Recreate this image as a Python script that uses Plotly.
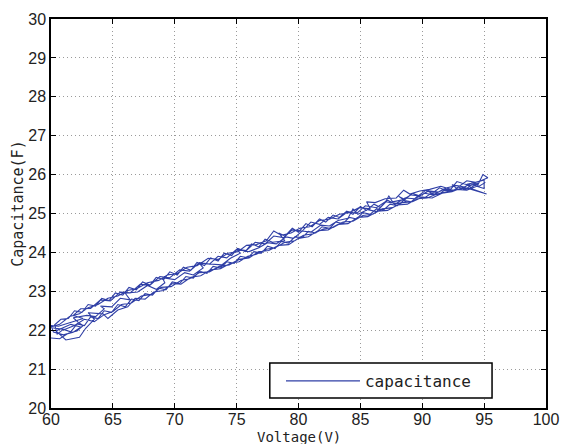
import plotly.graph_objects as go

# Capacitance measured while the voltage is swept up and down repeatedly.
# Each sweep is a list of (voltage [V], capacitance [F]) readings.
sweep_1 = [
    (60.0, 21.80), (60.7, 21.78), (61.4, 21.92), (62.1, 21.98), (62.6, 22.12), (62.2, 22.20),
    (61.8, 22.32), (62.9, 22.38), (63.6, 22.35), (64.3, 22.55), (64.0, 22.62), (64.9, 22.60),
    (65.6, 22.82), (66.4, 22.78), (66.0, 22.95), (67.0, 22.98), (67.8, 23.15), (68.5, 23.05),
    (69.2, 23.22), (69.0, 23.35), (70.0, 23.30), (70.8, 23.48), (71.5, 23.42), (72.3, 23.60),
    (72.0, 23.72), (73.0, 23.70), (73.8, 23.68), (74.5, 23.85), (75.3, 23.98), (75.0, 24.08),
    (76.0, 24.02), (76.8, 24.12), (77.5, 24.25), (78.2, 24.22), (79.0, 24.40), (79.6, 24.36),
    (80.3, 24.55), (81.0, 24.52), (81.8, 24.70), (82.5, 24.68), (83.2, 24.82), (84.0, 24.88),
    (84.4, 25.12), (84.8, 24.98), (85.6, 25.10), (86.3, 25.05), (87.0, 25.28), (87.3, 25.45),
    (87.6, 25.30), (88.4, 25.35), (89.1, 25.48), (89.8, 25.45), (90.5, 25.58), (91.3, 25.55),
    (92.0, 25.66), (92.8, 25.72), (93.4, 25.68), (94.1, 25.80), (94.5, 25.74), (94.9, 26.00),
    (95.3, 25.92),
]
sweep_2 = [
    (94.6, 25.82), (93.6, 25.75), (94.1, 25.62), (95.2, 25.50), (93.5, 25.66), (92.6, 25.60),
    (91.7, 25.62), (90.9, 25.48), (90.2, 25.52), (89.4, 25.38), (88.6, 25.40), (87.9, 25.26),
    (87.0, 25.30), (86.3, 25.15), (85.4, 25.20), (84.7, 25.00), (84.0, 25.05), (83.2, 24.86),
    (82.4, 24.90), (81.7, 24.72), (81.0, 24.78), (80.3, 24.55), (79.5, 24.58), (78.8, 24.38),
    (78.0, 24.42), (77.3, 24.22), (76.5, 24.26), (75.8, 24.05), (75.0, 24.08), (74.2, 23.86),
    (73.5, 23.90), (72.8, 23.70), (72.0, 23.74), (71.2, 23.52), (70.4, 23.55), (69.6, 23.35),
    (68.8, 23.38), (68.0, 23.16), (67.2, 23.18), (66.4, 22.96), (65.6, 22.98), (64.8, 22.75),
    (64.0, 22.78), (63.2, 22.56), (62.4, 22.55), (61.8, 22.38), (62.6, 22.30), (61.5, 22.18),
    (60.6, 22.10), (60.0, 22.12),
]
sweep_3 = [
    (60.2, 21.95), (61.0, 21.88), (61.8, 21.95), (62.4, 22.08), (61.6, 22.15), (60.4, 21.98),
    (61.2, 21.75), (62.3, 21.82), (62.8, 22.05), (63.5, 22.28), (63.0, 22.45), (64.2, 22.42),
    (64.6, 22.30), (65.4, 22.52), (66.2, 22.60), (66.8, 22.82), (67.6, 22.80), (68.3, 22.98),
    (69.1, 23.02), (69.8, 23.20), (70.5, 23.18), (71.3, 23.36), (72.1, 23.40), (72.9, 23.55),
    (73.7, 23.58), (74.5, 23.72), (75.2, 23.76), (75.9, 23.90), (76.6, 23.95), (77.4, 24.08),
    (78.1, 24.12), (78.9, 24.26), (79.7, 24.30), (80.4, 24.44), (81.2, 24.48), (82.0, 24.60),
    (82.8, 24.64), (83.6, 24.78), (84.4, 24.80), (85.2, 24.95), (86.0, 24.98), (86.8, 25.12),
    (87.6, 25.15), (88.4, 25.28), (89.2, 25.30), (90.0, 25.42), (90.8, 25.40), (91.6, 25.52),
    (92.4, 25.56), (93.2, 25.66), (93.8, 25.64), (94.5, 25.78),
]
sweep_4 = [
    (93.8, 25.72), (92.8, 25.82), (92.3, 25.62), (91.5, 25.70), (90.6, 25.62), (89.8, 25.58),
    (89.0, 25.50), (88.5, 25.60), (87.9, 25.40), (87.0, 25.38), (86.2, 25.28), (85.5, 25.30),
    (85.8, 25.12), (84.9, 25.15), (84.1, 25.02), (83.3, 24.98), (82.5, 24.85), (81.7, 24.82),
    (80.9, 24.66), (80.1, 24.62), (79.4, 24.50), (78.6, 24.44), (78.0, 24.55), (77.4, 24.30),
    (76.6, 24.20), (75.8, 24.18), (75.1, 24.02), (74.3, 23.98), (73.5, 23.82), (72.7, 23.85),
    (71.8, 23.66), (71.0, 23.62), (70.2, 23.46), (69.4, 23.42), (68.7, 23.28), (67.8, 23.22),
    (67.0, 23.08), (66.2, 23.02), (65.4, 22.88), (64.6, 22.82), (63.8, 22.66), (63.0, 22.58),
    (62.3, 22.42), (61.5, 22.35), (60.7, 22.15), (60.0, 22.08),
]
sweep_5 = [
    (60.3, 22.05), (61.1, 22.02), (61.9, 22.12), (62.7, 22.28), (63.5, 22.22), (64.3, 22.40),
    (65.0, 22.48), (65.7, 22.66), (66.5, 22.70), (67.3, 22.88), (68.1, 22.92), (68.9, 23.10),
    (69.7, 23.12), (70.5, 23.28), (71.2, 23.32), (72.0, 23.48), (72.8, 23.50), (73.6, 23.64),
    (74.4, 23.68), (75.2, 23.82), (76.0, 23.86), (76.8, 24.02), (77.6, 24.05), (78.4, 24.18),
    (79.2, 24.20), (80.0, 24.36), (80.8, 24.40), (81.6, 24.56), (82.4, 24.58), (83.2, 24.72),
    (84.0, 24.74), (84.8, 24.90), (85.6, 24.92), (86.4, 25.06), (87.2, 25.08), (88.0, 25.22),
    (88.8, 25.24), (89.6, 25.38), (90.4, 25.40), (91.2, 25.50), (92.0, 25.56), (92.8, 25.62),
    (93.6, 25.60), (94.4, 25.70), (95.0, 25.64),
]
sweep_6 = [
    (95.0, 25.86), (94.3, 25.80), (93.6, 25.84), (93.0, 25.70), (92.4, 25.74), (92.9, 25.62),
    (92.0, 25.58), (91.4, 25.66), (90.8, 25.52), (90.3, 25.60), (89.7, 25.46), (89.2, 25.52),
    (88.6, 25.36), (88.1, 25.44), (88.7, 25.30), (87.8, 25.24), (87.2, 25.34), (86.6, 25.16),
    (86.1, 25.24), (85.5, 25.08), (85.0, 25.18), (84.4, 24.98), (83.9, 25.06), (83.3, 24.90),
    (82.8, 24.96), (82.2, 24.78), (81.7, 24.86), (81.1, 24.66), (80.6, 24.74), (80.0, 24.52),
    (79.5, 24.62), (78.9, 24.42), (78.4, 24.50), (78.9, 24.30), (77.9, 24.26), (77.3, 24.34),
    (76.8, 24.14), (76.2, 24.22), (75.7, 24.02), (75.1, 24.10), (74.6, 23.92), (74.0, 23.98),
    (73.5, 23.78), (72.9, 23.86), (72.4, 23.66), (71.8, 23.74), (71.3, 23.54), (70.7, 23.62),
    (70.2, 23.42), (69.6, 23.50), (69.1, 23.30), (68.5, 23.36), (68.0, 23.16), (67.4, 23.24),
    (66.9, 23.04), (66.3, 23.10), (65.8, 22.90), (65.2, 22.96), (64.7, 22.76), (64.1, 22.82),
    (63.6, 22.62), (63.0, 22.66), (62.5, 22.46), (61.9, 22.50), (61.4, 22.30), (60.8, 22.28),
    (60.3, 22.14),
]
sweep_7 = [
    (60.5, 21.90), (61.0, 22.02), (61.6, 21.96), (62.1, 22.16), (62.7, 22.12), (63.2, 22.34),
    (63.8, 22.30), (64.3, 22.50), (64.9, 22.46), (65.4, 22.66), (66.0, 22.60), (66.5, 22.80),
    (67.1, 22.76), (67.6, 22.94), (68.2, 22.90), (68.7, 23.08), (69.3, 23.04), (69.8, 23.24),
    (70.4, 23.20), (70.9, 23.38), (71.5, 23.34), (72.0, 23.52), (72.6, 23.46), (73.1, 23.64),
    (73.7, 23.60), (74.2, 23.76), (74.8, 23.72), (75.3, 23.90), (75.9, 23.86), (76.4, 24.02),
    (77.0, 23.98), (77.5, 24.16), (78.1, 24.10), (78.6, 24.28), (79.2, 24.24), (79.7, 24.40),
    (80.3, 24.38), (80.8, 24.54), (81.4, 24.50), (81.9, 24.66), (82.5, 24.62), (83.0, 24.78),
    (83.6, 24.74), (84.1, 24.90), (84.7, 24.86), (85.2, 25.02), (85.8, 24.98), (86.3, 25.12),
    (86.9, 25.10), (87.4, 25.24), (88.0, 25.20), (88.5, 25.34), (89.1, 25.30), (89.6, 25.44),
    (90.2, 25.40), (90.7, 25.52), (91.3, 25.48), (91.8, 25.60), (92.4, 25.56), (92.9, 25.68),
    (93.5, 25.62), (94.0, 25.74), (94.6, 25.70), (95.1, 25.80),
]
sweeps = [sweep_1, sweep_2, sweep_3, sweep_4, sweep_5, sweep_6, sweep_7]

voltage = [v for s in sweeps for v, _ in s]
capacitance = [c for s in sweeps for _, c in s]

x_ticks = [60, 65, 70, 75, 80, 85, 90, 95, 100]
y_ticks = [20, 21, 22, 23, 24, 25, 26, 27, 28, 29, 30]
x_label = "Voltage(V)"
y_label = "Capacitance(F)"

line_color = "#2f3fa6"
text_color = "#222222"
tick_font = dict(family="Liberation Sans Narrow, Liberation Sans, Arial, sans-serif",
                 size=16, color=text_color)
mono_font = "DejaVu Sans Mono, Liberation Mono, monospace"
label_font = dict(family=mono_font, size=14, color=text_color)

fig = go.Figure()
fig.add_trace(go.Scatter(
    x=voltage, y=capacitance, mode="lines", name="capacitance",
    line=dict(color=line_color, width=1.1),
))

axis_common = dict(
    automargin=False,
    showline=True, linecolor="black", linewidth=1.5, mirror="ticks",
    ticks="inside", ticklen=5, tickcolor="black", tickwidth=1,
    showgrid=True, gridcolor="#9a9a9a", gridwidth=1, griddash="1px,3px",
    zeroline=False, tickfont=tick_font, ticklabeloverflow="allow",
)

fig.update_xaxes(range=[60, 100], tickvals=x_ticks, ticktext=[str(v) for v in x_ticks],
                 ticklabelstandoff=-4, **axis_common)
fig.update_yaxes(range=[20, 30], tickvals=y_ticks, ticktext=[str(v) for v in y_ticks],
                 **axis_common)

# axis labels
fig.add_annotation(text=x_label, xref="paper", yref="paper", x=0.5, y=-0.0514,
                   xanchor="center", yanchor="top", borderpad=0, showarrow=False,
                   font=label_font)
fig.add_annotation(text=y_label, xref="paper", yref="paper", x=-0.0667, y=0.525,
                   xanchor="center", yanchor="middle", textangle=-90, borderpad=0,
                   showarrow=False, font=dict(family=mono_font, size=15, color=text_color))

# legend frame
fig.add_shape(type="rect", xref="paper", yref="paper",
              x0=0.442, x1=0.891, y0=0.026, y1=0.116,
              fillcolor="white", line=dict(color="black", width=1.5), layer="above")

fig.update_layout(
    width=561, height=444,
    margin=dict(l=51, r=15, t=19, b=36),
    paper_bgcolor="white", plot_bgcolor="white",
    showlegend=True,
    legend=dict(
        x=0.4646, y=0.0694, xanchor="left", yanchor="middle",
        bgcolor="rgba(0,0,0,0)", borderwidth=0,
        font=dict(family=mono_font, size=16, color=text_color),
        itemwidth=74,
    ),
)

fig.write_html("out.html")
